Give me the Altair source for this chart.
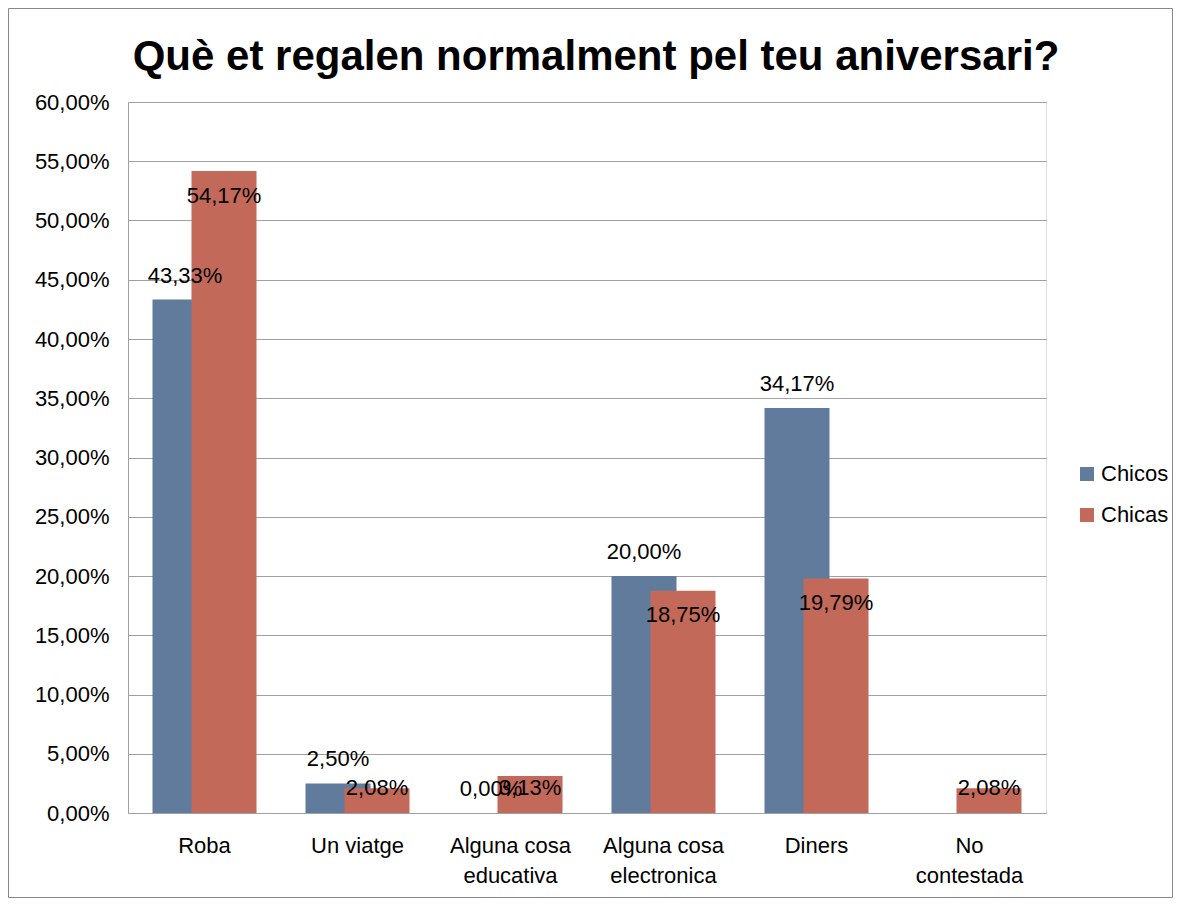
import altair as alt
import pandas as pd

categories = ["Roba", "Un viatge", "Alguna cosa educativa", "Alguna cosa electronica", "Diners", "No contestada"]
chicos = [43.33, 2.50, 0.00, 20.00, 34.17, None]
chicas = [54.17, 2.08, 3.13, 18.75, 19.79, 2.08]
series = ["Chicos", "Chicas"]
colors = ["#607B9C", "#C2695A"]
y_ticks = [0, 5, 10, 15, 20, 25, 30, 35, 40, 45, 50, 55, 60]

rows = []
for c, a, b in zip(categories, chicos, chicas):
    rows.append({"cat": c, "serie": "Chicos", "valor": a})
    rows.append({"cat": c, "serie": "Chicas", "valor": b})
df = pd.DataFrame(rows)

FONT = "Liberation Sans"
BW = 65
OFF = 19.5

x_enc = alt.X("cat:N", sort=categories, title=None,
              scale=alt.Scale(paddingInner=0, paddingOuter=0),
              axis=alt.Axis(labelAngle=0, ticks=False, grid=False, domainColor="#A0A0A0",
                            labelFontSize=22, labelFont=FONT, labelColor="#000000",
                            labelPadding=22, labelLineHeight=30, labelBaseline="top",
                            labelExpr="datum.label == 'No contestada' ? ['No', 'contestada'] : (indexof(datum.label, 'Alguna cosa ') == 0 ? ['Alguna cosa', substring(datum.label, 12)] : datum.label)"))
y_scale = alt.Scale(domain=[0, 60], nice=False)
y_enc = alt.Y("valor:Q", title=None, scale=y_scale,
              axis=alt.Axis(values=y_ticks, ticks=False, domainColor="#A0A0A0", gridColor="#A0A0A0",
                            labelFontSize=22, labelFont=FONT, labelColor="#000000", labelPadding=19,
                            labelExpr="replace(format(datum.value, '.2f'), '.', ',') + '%'"))
color_enc = alt.Color("serie:N", title=None,
                      scale=alt.Scale(domain=series, range=colors),
                      legend=alt.Legend(orient="none", legendX=948, legendY=361, padding=0,
                                        symbolType="square", symbolSize=196, symbolStrokeWidth=0,
                                        labelFontSize=22, labelFont=FONT, labelColor="#000000",
                                        rowPadding=19, labelOffset=3))

base = alt.Chart(df)

bars_a = base.transform_filter("datum.serie == 'Chicos' && isValid(datum.valor)").mark_bar(
    width=BW, xOffset=-OFF).encode(x=x_enc, y=y_enc, color=color_enc)
bars_b = base.transform_filter("datum.serie == 'Chicas'").mark_bar(
    width=BW, xOffset=OFF).encode(x=x_enc, y=y_enc, color=color_enc)

lab_a = base.transform_filter("datum.serie == 'Chicos' && isValid(datum.valor)").transform_calculate(
    txt="replace(format(datum.valor, '.2f'), '.', ',') + '%'"
).mark_text(xOffset=-OFF, dy=-24, baseline="middle", fontSize=22, font=FONT, color="#000000").encode(
    x=alt.X("cat:N", sort=categories), y=alt.Y("valor:Q", scale=y_scale), text="txt:N")

lab_b = base.transform_filter("datum.serie == 'Chicas'").transform_calculate(
    txt="replace(format(datum.valor, '.2f'), '.', ',') + '%'",
    ly="max(datum.valor - 2.07, 2.1)"
).mark_text(xOffset=OFF, baseline="middle", fontSize=22, font=FONT, color="#000000").encode(
    x=alt.X("cat:N", sort=categories), y=alt.Y("ly:Q", scale=y_scale), text="txt:N")

border = alt.Chart(pd.DataFrame({"k": [0]})).mark_rect(
    fillOpacity=0, stroke="#888888", strokeWidth=1).encode(
    x=alt.value(-119.5), x2=alt.value(1044.5), y=alt.value(-93.5), y2=alt.value(795.5))

chart = alt.layer(bars_a, bars_b, lab_a, lab_b, border).properties(
    width=918, height=711,
    title=alt.TitleParams("Què et regalen normalment pel teu aniversari?", fontSize=42, font=FONT,
                          fontWeight="bold", color="#000000", anchor="middle", frame="group",
                          baseline="alphabetic", offset=-104, dx=9),
    autosize=alt.AutoSizeParams(type="none"),
    padding={"left": 120, "top": 94, "right": 127, "bottom": 85},
).configure_view(stroke=None).configure(background="#FFFFFF")

chart.save("out.html", embed_options={"renderer": "svg", "actions": False})
